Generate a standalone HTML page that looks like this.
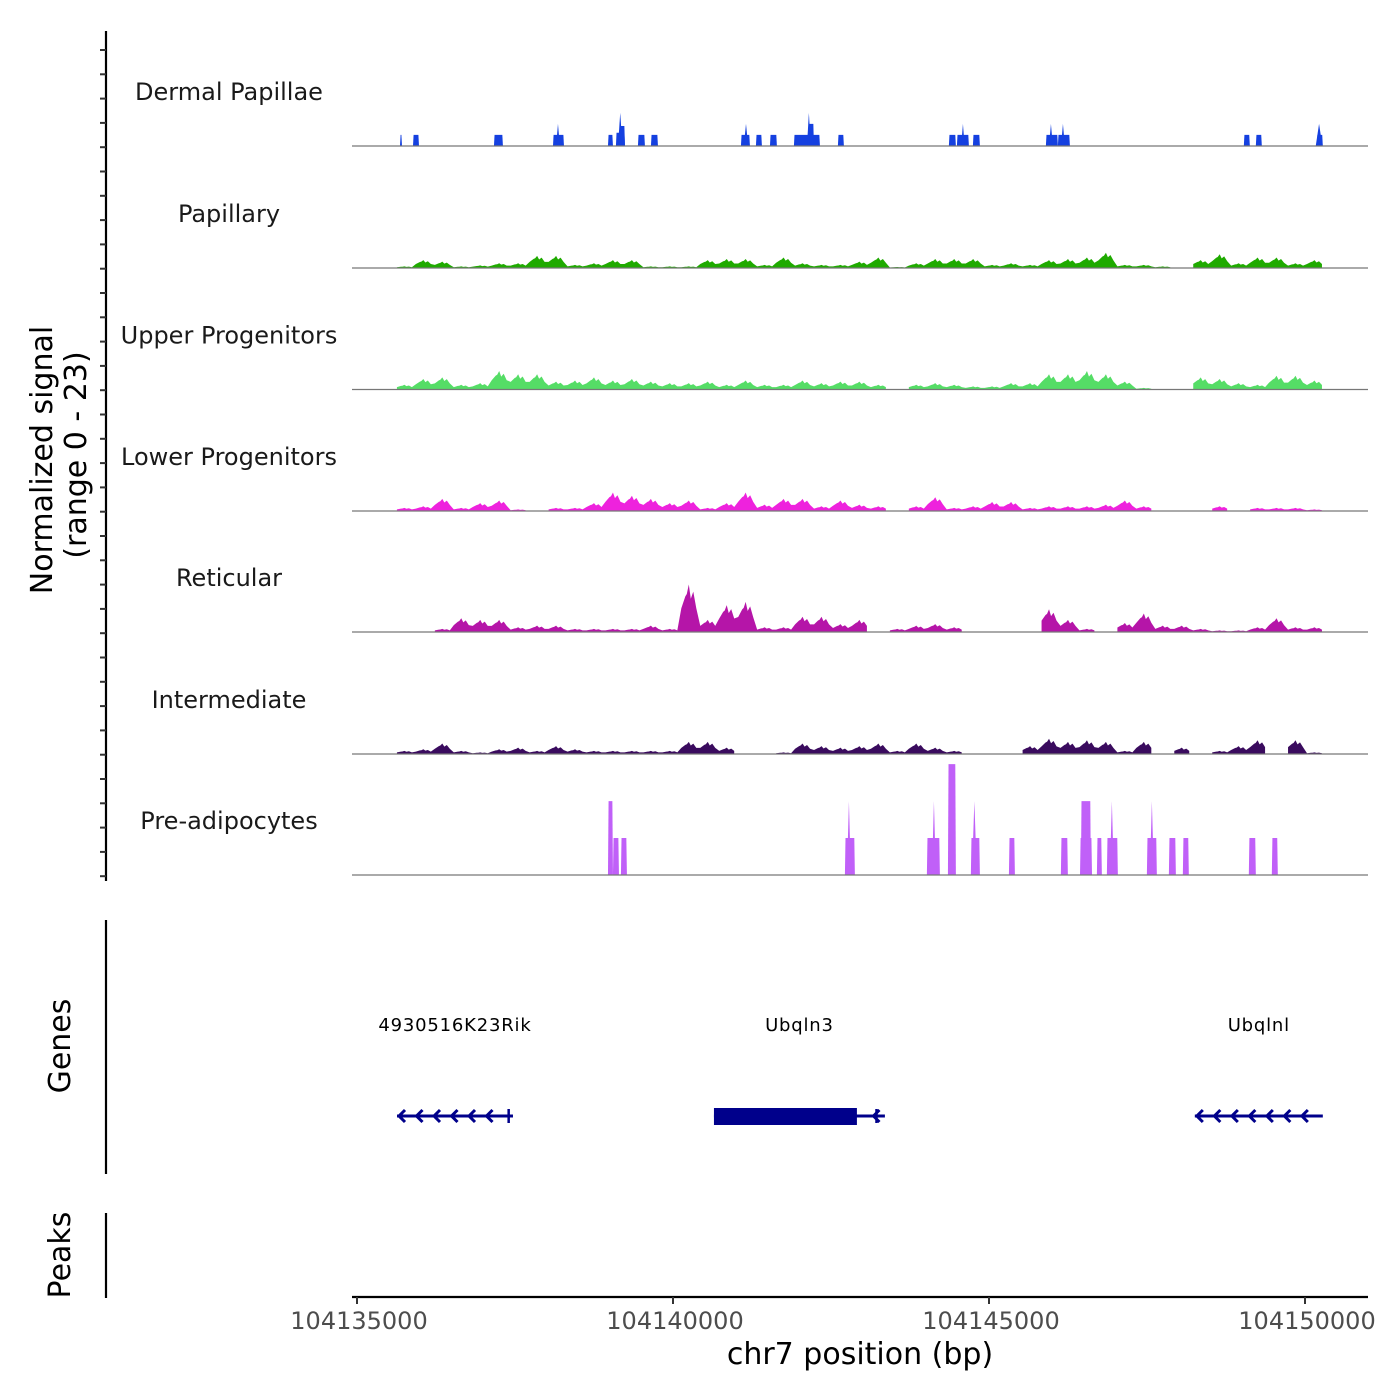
<!DOCTYPE html>
<html><head><meta charset="utf-8"><style>
html,body{margin:0;padding:0;background:#fff;}
svg{display:block;font-family:"DejaVu Sans","Liberation Sans",sans-serif;}
</style></head><body>
<svg id="chart" width="1400" height="1400" viewBox="0 0 1400 1400" xmlns="http://www.w3.org/2000/svg">
<g id="axes"></g>
<g id="tracks"></g>
<g id="genes"></g>
<text transform="translate(52,460) rotate(-90)" text-anchor="middle" font-size="30" fill="#000">Normalized signal</text>
<text transform="translate(86,455) rotate(-90)" text-anchor="middle" font-size="30" fill="#000">(range 0 - 23)</text>
<text transform="translate(70,1046) rotate(-90)" text-anchor="middle" font-size="30" fill="#000">Genes</text>
<text transform="translate(70,1255) rotate(-90)" text-anchor="middle" font-size="30" fill="#000">Peaks</text>
<text x="860" y="1364" text-anchor="middle" font-size="30" fill="#000">chr7 position (bp)</text>
</svg>
<script>
const REGION_START = 104135000;
const REGION_END = 104151100;
const Y_MAX = 23;
const BIN_SIZE = 300;

const trackNames = ["Dermal Papillae","Papillary","Upper Progenitors","Lower Progenitors","Reticular","Intermediate","Pre-adipocytes"];
const trackColors = ["#1540e0","#1faa00","#55dd66","#ee22dd","#b515a8","#3a0b5e","#c060f8"];

// Dermal Papillae: blocks (start offset bp, end offset bp, value, shape r=rect t=spike)
const dpStart = [680,886,2167,3101,3150,3971,4097,4130,4161,4445,4651,6075,6120,6312,6534,6913,7120,7151,7609,9365,9492,9560,9745,10900,10950,11090,11140,14032,14222,15187,15170];
const dpEnd   = [712,981,2309,3275,3210,4050,4240,4200,4240,4556,4762,6217,6190,6407,6644,7325,7180,7230,7704,9476,9682,9615,9856,11090,11010,11280,11200,14127,14317,15282,15275];
const dpVal   = [2.1,2.1,2.1,2.1,4.2,2.1,2.5,6.3,3.8,2.1,2.1,2.1,4.2,2.1,2.1,2.1,6.3,4.2,2.1,2.1,2.1,4.2,2.1,2.1,4.2,2.1,4.2,2.1,2.1,2.1,4.2];
const dpShape = ["r","r","r","r","t","r","r","t","r","r","r","r","t","r","r","r","t","r","r","r","r","t","r","r","t","r","t","r","r","r","t"];

// Binned signal (300 bp bins from region start)
const papillary = [0,0,0.3,1.5,1.2,0.3,0.5,0.9,0.9,2.3,2.3,0.6,0.9,1.5,1.5,0.3,0.3,0.3,1.5,1.7,1.7,0.6,2,0.9,0.6,0.6,1.2,2,0.2,0.9,1.7,1.7,1.7,0.6,0.9,0.6,1.5,1.7,2,2.9,0.6,0.6,0.3,0,1.5,2.6,0.9,2,2,0.9,1.5,0];
const upperProg = [0,0,0.9,2,2.3,0.9,1.2,3.5,2.9,2.9,1.5,1.7,2.3,1.7,2,1.5,1.2,1.2,1.5,0.9,1.7,0.9,0.9,1.7,1.2,1.5,1.5,0.9,0,0.9,1.2,0.9,0.6,0.6,1.2,1.2,2.9,2.9,3.5,2.9,1.5,0.3,0,0,2.3,2,1.2,0.9,2.6,2.6,1.7,0];
const lowerProg = [0,0,0.6,0.9,2.3,0.6,1.5,2,0.3,0,0.6,0.6,1.5,3.5,2.9,2.3,1.5,2,0.6,1.5,3.5,1.2,2.3,2.3,0.9,2,1.2,0.9,0,0.9,2.6,0.6,0.9,1.7,1.7,0.6,0.9,0.9,0.9,1.2,2,0.9,0,0,0,0.9,0,0.6,0.6,0.6,0.3,0];
const reticular = [0,0,0,0,0.6,2.6,2.3,2.3,0.9,1.2,1.2,0.6,0.6,0.6,0.6,1.2,0.6,9,2.3,5.1,5.7,0.9,0.9,2.9,2.9,1.5,2.3,0,0.6,1.2,1.5,0.9,0,0,0,0,4.3,2.3,0.6,0,1.7,3.5,1.2,1.2,0.6,0.3,0.3,0.9,2.6,0.9,0.9,0];
const intermediate = [0,0,0.6,0.9,2,0.6,0.3,0.9,1.2,0.6,1.5,0.9,0.6,0.6,0.6,0.6,0.6,2.3,2.3,1.2,0,0,0.3,2,1.5,1.2,1.5,2,0.6,2,1.2,0.6,0,0,0,1.5,2.9,2.3,2.6,2.3,0.6,2.3,0,1.2,0,0.6,1.5,2.6,0,2.6,0.3,0];

// Pre-adipocytes: blocks
const paStart = [3971,4050,4176,7720,7752,9017,9097,9350,9713,9729,10315,11137,11440,11454,11707,11865,11912,12498,12545,12846,13067,14111,14475];
const paEnd   = [4050,4145,4271,7878,7815,9223,9160,9476,9856,9808,10410,11248,11630,11612,11786,12039,11976,12656,12609,12957,13162,14222,14570];
const paVal   = [14,7,7,7,14,7,14,21,7,14,7,7,7,14,7,7,14,7,14,7,7,7,7];
const paShape = ["r","r","r","r","t","r","t","r","r","t","r","r","r","r","r","r","t","r","t","r","r","r","r"];

// Genes
const geneNames = ["4930516K23Rik","Ubqln3","Ubqlnl"];
const geneStart = [633,5648,13257];
const geneEnd = [2468,8353,15282];
const exonStart = [2380,5648,8200];
const exonEnd = [2400,7910,8220];
const xTicks = [104135000,104140000,104145000,104150000];

const NS = "http://www.w3.org/2000/svg";
const X0 = 352, X1 = 1368;
const PX_PER_BP = 948/15000;
function xs(bp){ return 357 + (bp - REGION_START) * PX_PER_BP; }
function xo(off){ return xs(REGION_START + off); }
const TRACK_H = 121.4;
const baselines = [146,268,389.5,511,632,754,875];
function ys(v, base){ return base - v * (TRACK_H / Y_MAX) ; }
function mk(tag, attrs, parent){ const e=document.createElementNS(NS,tag); for(const k in attrs) e.setAttribute(k,attrs[k]); parent.appendChild(e); return e; }

const axes = document.getElementById('axes');
const tracks = document.getElementById('tracks');
const genes = document.getElementById('genes');

let sp = mk('line',{x1:106,y1:31,x2:106,y2:881,stroke:'#000','stroke-width':2.2},axes);


for(let i=0;i<35;i++){
  const y = 50 + i*24.3;
  const t = mk('line',{x1:100,y1:y,x2:106,y2:y,stroke:'#333','stroke-width':2},axes);
  
  
}
let gs = mk('line',{x1:106,y1:920,x2:106,y2:1174,stroke:'#000','stroke-width':2.2},axes);


let ps = mk('line',{x1:106,y1:1213,x2:106,y2:1298,stroke:'#000','stroke-width':2.2},axes);


let xa = mk('line',{x1:X0,y1:1297,x2:X1,y2:1297,stroke:'#000','stroke-width':2.2},axes);


xTicks.forEach(v=>{
  const x = xs(v);
  const t = mk('line',{x1:x,y1:1297,x2:x,y2:1304,stroke:'#333','stroke-width':2},axes);
  
  
  const l = mk('text',{x:x+2,y:1329,'text-anchor':'middle','font-size':24,fill:'#4d4d4d'},axes);
  l.textContent = v;
  
  
});

function drawBlocks(starts, ends, vals, shapes, base, color, g){
  for(let i=0;i<starts.length;i++){
    const a = xo(starts[i]), b = xo(ends[i]), top = ys(vals[i], base);
    let d;
    if(shapes[i]==='t'){ const m=(a+b)/2; d=`M${a},${base}L${m},${top}L${b},${base}Z`; }
    else d=`M${a},${base}L${a+0.6},${top}L${b-0.6},${top}L${b},${base}Z`;
    const p = mk('path',{d:d,fill:color},g);
    
    
  }
}
function drawBins(vals, base, color, g){
  let d = '';
  let open = false;
  for(let i=0;i<vals.length;i++){
    const l = xo(i*BIN_SIZE), r = xo((i+1)*BIN_SIZE), cx = (l+r)/2;
    const v = vals[i];
    if(v > 0){
      if(!open){ d += `M${l+2},${base}`; open = true; }
      d += `L${l+2},${ys(v*0.5,base)}L${l+6},${ys(v*0.75,base)}L${cx-2},${ys(v*0.8,base)}L${cx},${ys(v,base)}L${cx+2},${ys(v*0.7,base)}L${r-5},${ys(v*0.85,base)}L${r-2},${ys(v*0.5,base)}`;
    } else if(open){
      d += `L${l-2},${base}Z`; open=false;
    }
  }
  if(open) d += `L${xo(vals.length*BIN_SIZE)},${base}Z`;
  const p = mk('path',{d:d,fill:color},g);
  
  
}

const binned = [null, papillary, upperProg, lowerProg, reticular, intermediate, null];
trackNames.forEach((name,i)=>{
  const g = mk('g',{},tracks);
  
  
  const base = baselines[i];
  if(i===0) drawBlocks(dpStart,dpEnd,dpVal,dpShape,base,trackColors[i],g);
  else if(i===6) drawBlocks(paStart,paEnd,paVal,paShape,base,trackColors[i],g);
  else drawBins(binned[i],base,trackColors[i],g);
  const bl = mk('line',{x1:X0,y1:base,x2:X1,y2:base,stroke:'#777','stroke-width':1.2},g);
  
  
  const lab = mk('text',{x:229,y:base-46,'text-anchor':'middle','font-size':24,fill:'#1a1a1a'},g);
  lab.textContent = name;
  
  
});

const GY = 1116, GC = '#00008b';
geneNames.forEach((n,i)=>{
  const g = mk('g',{},genes);
  
  
  const a = xo(geneStart[i]), b = xo(geneEnd[i]);
  const lab = mk('text',{x:(a+b)/2,y:1031,'text-anchor':'middle','font-size':18,'letter-spacing':'0.8',fill:'#000'},g);
  lab.textContent = n;
  
  
  const ln = mk('line',{x1:a,y1:GY,x2:b,y2:GY,stroke:GC,'stroke-width':3},g);
  
  
  const ea = xo(exonStart[i]), eb = xo(exonEnd[i]);
  const ex = mk('rect',{x:ea,y:(eb-ea>5)?GY-8:GY-7,width:Math.max(eb-ea,2.5),height:(eb-ea>5)?17:14,fill:GC},g);
  
  
  for(let x=a+2; x<b-8; x+=17.5){
    if(x>ea-4 && x<eb) continue;
    const c = mk('path',{d:`M${x+6},${GY-6}L${x},${GY}L${x+6},${GY+6}`,stroke:GC,'stroke-width':3,fill:'none'},g);
    
    
  }
});
</script>
</body></html>
